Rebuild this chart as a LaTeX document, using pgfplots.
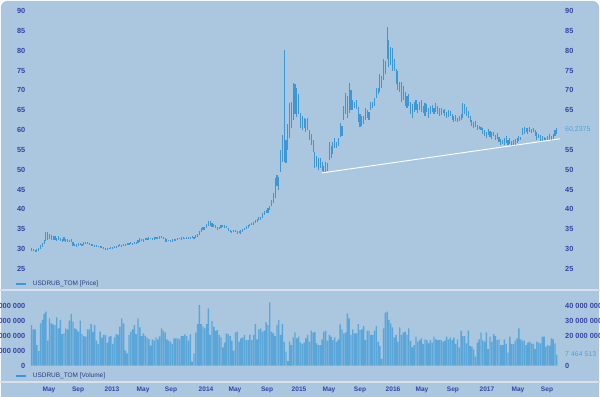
\documentclass[border=0pt]{standalone}
\usepackage{fontspec}
\setmainfont{Liberation Sans}
\usepackage{pgfplots}
\usepackage{pgfplotstable}
\pgfplotsset{compat=1.18}

\definecolor{bgc}{HTML}{ABC7E0}
\definecolor{tickc}{HTML}{3742A5}
\definecolor{legc}{HTML}{2B3A80}
\definecolor{barc}{HTML}{3D97D4}
\definecolor{volc}{HTML}{5BA6D9}
\definecolor{lastc}{HTML}{4AA3DC}
\definecolor{sepc}{HTML}{DCE0E6}

\pgfplotstableread{
w lo hi
0 29.6 30.3
1 29.5 30.1
2 29.3 29.9
3 29.4 30.0
4 29.6 30.4
5 30.0 31.0
6 30.5 31.6
7 31.3 32.4
8 32.0 34.3
9 32.3 34.2
10 32.5 33.8
11 32.4 33.5
12 32.2 33.3
13 32.3 33.3
14 32.0 32.9
15 32.4 33.2
16 32.0 32.8
17 31.9 32.6
18 32.1 33.0
19 31.8 32.6
20 31.8 32.5
21 31.9 32.4
22 31.8 32.6
23 30.7 31.8
24 30.8 31.4
25 30.6 31.2
26 30.8 31.5
27 31.0 31.6
28 30.9 31.4
29 31.1 31.7
30 31.3 31.9
31 31.2 31.8
32 31.0 31.5
33 30.8 31.3
34 30.7 31.2
35 30.6 31.1
36 30.5 31.0
37 30.6 30.9
38 30.4 30.8
39 30.2 30.7
40 30.1 30.5
41 29.9 30.4
42 30.0 30.3
43 30.0 30.4
44 30.1 30.5
45 30.2 30.6
46 30.3 30.8
47 30.4 30.9
48 30.6 31.0
49 30.7 31.3
50 30.6 31.1
51 30.8 31.4
52 30.9 31.3
53 31.0 31.5
54 31.0 31.6
55 31.2 31.8
56 31.1 31.5
57 31.2 31.7
58 31.3 31.9
59 31.5 32.2
60 31.8 32.7
61 32.0 32.5
62 31.9 32.6
63 32.2 32.8
64 32.3 32.9
65 32.4 33.0
66 32.5 32.9
67 32.3 32.8
68 32.4 33.1
69 32.6 33.1
70 32.5 33.0
71 32.6 33.2
72 32.7 33.3
73 32.6 33.1
74 31.8 32.8
75 31.9 32.5
76 32.0 32.4
77 31.7 32.3
78 31.9 32.5
79 32.2 32.6
80 32.0 32.5
81 32.3 32.8
82 32.5 32.9
83 32.4 33.0
84 32.6 33.1
85 32.5 32.9
86 32.7 33.0
87 32.6 33.1
88 32.5 33.0
89 32.7 33.2
90 32.5 33.0
91 32.8 33.5
92 33.0 33.7
93 33.6 34.6
94 34.3 35.3
95 34.8 35.6
96 34.9 35.7
97 35.3 36.4
98 35.8 37.0
99 35.9 37.1
100 35.6 36.5
101 35.5 36.3
102 35.2 36.2
103 34.8 35.6
104 35.0 35.5
105 35.2 36.0
106 35.5 36.1
107 35.4 36.0
108 35.2 35.8
109 34.5 35.3
110 34.2 34.9
111 34.0 34.6
112 34.4 34.9
113 34.2 34.7
114 33.8 34.5
115 34.0 34.5
116 33.9 34.8
117 34.3 35.0
118 34.7 35.4
119 35.1 35.8
120 35.4 36.1
121 35.8 36.3
122 36.0 36.7
123 36.2 36.8
124 36.5 37.3
125 36.9 37.6
126 37.3 38.0
127 37.4 38.2
128 37.8 39.0
129 38.5 39.5
130 39.0 39.8
131 39.2 40.3
132 39.8 40.8
133 40.8 42.4
134 41.5 44.2
135 43.0 48.0
136 46.0 48.8
137 44.8 48.2
138 49.5 55.0
139 52.0 58.8
140 52.0 80.2
141 51.8 57.4
142 55.0 61.5
143 58.0 66.8
144 60.5 67.0
145 62.5 71.9
146 64.0 71.5
147 63.3 70.6
148 64.0 69.0
149 60.5 64.3
150 60.0 63.5
151 60.5 63.0
152 59.5 62.8
153 60.0 63.0
154 57.5 60.0
155 56.2 59.0
156 54.5 57.5
157 50.5 54.5
158 50.8 53.5
159 50.0 53.0
160 50.5 53.0
161 49.8 52.0
162 49.4 51.0
163 49.5 52.0
164 49.8 51.8
165 52.5 57.0
166 53.0 56.0
167 54.0 57.0
168 55.5 58.0
169 55.5 57.0
170 56.0 58.0
171 58.3 61.8
172 58.5 61.0
173 62.5 66.0
174 64.0 69.3
175 63.0 68.5
176 64.3 71.9
177 65.0 70.0
178 65.0 67.6
179 65.5 67.0
180 65.3 67.5
181 62.0 65.8
182 60.8 64.0
183 61.0 63.5
184 61.5 63.5
185 62.5 65.6
186 63.0 65.0
187 62.5 64.5
188 65.0 67.0
189 65.5 67.0
190 66.0 68.0
191 68.0 70.6
192 69.0 70.5
193 69.6 74.0
194 70.5 73.5
195 72.6 78.0
196 74.0 77.5
197 78.0 86.0
198 76.0 82.7
199 76.5 81.0
200 75.0 80.7
201 75.0 78.0
202 71.5 75.5
203 70.0 75.0
204 69.6 72.0
205 67.0 72.0
206 67.5 71.0
207 66.0 69.6
208 65.6 68.5
209 66.0 69.0
210 64.0 67.0
211 63.0 66.5
212 64.5 67.0
213 65.0 67.6
214 64.3 66.5
215 65.0 67.0
216 64.5 67.5
217 64.3 66.0
218 63.5 66.8
219 64.5 66.5
220 63.0 65.5
221 64.0 66.0
222 64.5 66.2
223 64.0 65.5
224 64.5 66.8
225 64.0 66.0
226 63.5 65.5
227 63.8 65.6
228 64.3 65.0
229 63.5 65.2
230 63.0 64.5
231 63.2 65.0
232 63.5 64.8
233 62.5 64.0
234 62.0 63.6
235 62.2 63.8
236 62.0 63.0
237 62.3 63.5
238 62.5 64.0
239 63.0 66.8
240 64.0 66.5
241 63.5 65.8
242 63.0 64.8
243 62.0 63.5
244 61.0 62.5
245 60.5 62.0
246 60.8 62.2
247 60.0 61.3
248 60.2 61.0
249 60.0 60.8
250 59.0 60.5
251 58.5 60.0
252 58.0 59.5
253 58.8 60.3
254 58.3 59.8
255 57.8 59.5
256 58.5 59.5
257 57.5 58.8
258 57.8 59.3
259 57.0 58.3
260 56.2 57.8
261 56.5 57.5
262 56.2 58.0
263 56.8 58.5
264 56.3 57.5
265 56.5 58.0
266 56.0 57.3
267 56.3 57.5
268 56.0 57.8
269 56.8 58.0
270 57.3 58.5
271 57.5 58.3
272 58.8 60.5
273 59.0 60.8
274 59.5 60.5
275 59.0 60.5
276 59.5 60.8
277 59.3 60.3
278 59.5 60.5
279 58.5 60.0
280 57.5 59.5
281 58.0 59.0
282 57.0 58.8
283 57.3 58.5
284 57.5 58.3
285 57.2 58.0
286 57.5 58.5
287 57.5 59.0
288 57.3 58.5
289 57.8 59.0
290 58.5 60.0
291 59.0 60.5
}\pricedata

\pgfplotstableread{
w v
0 27.1
1 24.2
2 24.2
3 13.8
4 9.8
5 28.3
6 30.5
7 34.5
8 36.0
9 16.7
10 31.6
11 28.3
12 27.6
13 27.1
14 32.2
15 24.9
16 30.5
17 21.1
18 21.6
19 24.9
20 24.2
21 30.0
22 34.5
23 29.4
24 24.9
25 24.2
26 22.7
27 30.0
28 21.1
29 19.8
30 19.4
31 24.2
32 24.2
33 27.8
34 22.5
35 27.1
36 16.7
37 14.5
38 22.7
39 18.7
40 20.5
41 20.5
42 15.4
43 19.4
44 19.8
45 14.5
46 18.9
47 21.1
48 20.5
49 26.0
50 31.6
51 28.3
52 10.0
53 8.3
54 20.5
55 22.7
56 24.2
57 27.1
58 21.1
59 31.6
60 25.6
61 19.8
62 21.6
63 20.0
64 18.9
65 17.8
66 13.4
67 17.6
68 16.7
69 18.9
70 17.6
71 19.5
72 24.9
73 23.4
74 22.2
75 17.6
76 16.7
77 16.0
78 14.5
79 18.3
80 18.3
81 18.3
82 17.6
83 19.8
84 19.8
85 20.9
86 19.8
87 16.7
88 20.9
89 2.7
90 8.3
91 22.0
92 27.8
93 40.5
94 27.8
95 26.0
96 24.9
97 27.8
98 38.2
99 20.5
100 29.8
101 26.0
102 23.4
103 23.8
104 20.5
105 18.9
106 12.3
107 15.4
108 21.6
109 21.1
110 19.8
111 16.7
112 10.0
113 22.2
114 22.7
115 16.0
116 18.3
117 18.9
118 20.5
119 17.1
120 17.1
121 20.7
122 17.1
123 20.5
124 27.8
125 17.6
126 24.2
127 24.9
128 22.7
129 23.4
130 28.9
131 27.1
132 42.3
133 22.7
134 21.6
135 19.8
136 27.1
137 30.5
138 20.5
139 27.8
140 16.0
141 9.4
142 3.1
143 16.0
144 13.8
145 18.9
146 22.2
147 18.3
148 19.4
149 15.6
150 14.5
151 15.4
152 18.3
153 20.5
154 16.0
155 23.4
156 22.0
157 22.5
158 14.9
159 13.8
160 13.8
161 17.6
162 22.7
163 23.4
164 16.7
165 20.5
166 19.4
167 17.1
168 18.9
169 16.0
170 17.6
171 27.6
172 24.2
173 21.6
174 22.0
175 34.9
176 31.6
177 20.5
178 24.2
179 21.6
180 21.6
181 27.8
182 23.8
183 24.2
184 26.5
185 17.1
186 23.4
187 23.4
188 20.5
189 20.5
190 23.4
191 26.5
192 16.0
193 13.2
194 4.5
195 24.9
196 35.4
197 36.0
198 30.5
199 28.3
200 25.6
201 18.9
202 20.5
203 16.0
204 25.6
205 20.5
206 22.0
207 22.7
208 20.5
209 24.9
210 16.5
211 12.3
212 13.8
213 19.4
214 16.0
215 17.1
216 18.3
217 14.5
218 17.6
219 17.1
220 14.9
221 17.1
222 15.4
223 19.4
224 17.6
225 17.1
226 17.1
227 17.1
228 16.0
229 16.7
230 19.4
231 17.6
232 18.7
233 17.1
234 18.7
235 14.5
236 17.6
237 12.3
238 23.4
239 19.8
240 19.8
241 14.9
242 23.4
243 13.2
244 12.7
245 10.9
246 6.0
247 15.4
248 17.6
249 22.0
250 17.1
251 16.0
252 22.2
253 11.1
254 19.4
255 16.0
256 21.1
257 19.8
258 17.1
259 17.6
260 13.8
261 13.8
262 17.6
263 14.5
264 8.7
265 19.4
266 14.5
267 14.5
268 16.7
269 18.3
270 24.9
271 17.6
272 16.7
273 16.7
274 13.8
275 15.4
276 16.0
277 14.9
278 14.5
279 11.1
280 16.0
281 15.4
282 14.9
283 19.4
284 19.4
285 12.7
286 13.8
287 13.2
288 18.3
289 17.6
290 14.9
291 7.46
}\voldata

\pgfplotsset{
  chartbase/.style={
    scale only axis, width=534bp, xmin=-2.49, xmax=293.35,
    axis line style={draw=none}, tick style={draw=none}, major tick length=0pt,
    /pgf/number format/assume math mode=true,
    yticklabel style={font=\fontsize{7.4}{8}\selectfont\bfseries, text=tickc, inner sep=0pt},
    xticklabel style={font=\fontsize{6.6}{8}\selectfont\bfseries, text=tickc, inner sep=0pt},
    legend style={draw=none, fill=none, inner sep=0pt, column sep=6bp,
      font=\fontsize{6.5}{8}\selectfont, text=legc, anchor=west,
      nodes={inner sep=0.5bp}},
    legend image code/.code={\draw[#1] (0bp,0bp) -- (10bp,0bp);},
  },
}

\begin{document}
\begin{tikzpicture}[x=1bp,y=1bp]
\useasboundingbox (0,0) rectangle (600,396);
\fill[white] (0,0) rectangle (600,396);
\fill[bgc, rounded corners=7bp] (0.8,-8) rectangle (599.2,395.2);
\draw[sepc, line width=1.6bp] (0,106) -- (600,106);
\draw[sepc, line width=1.6bp] (0,14) -- (600,14);

% price panel (left labels, bars, trend line, legend)
\begin{axis}[chartbase, at={(27bp,106bp)}, anchor=south west, height=290bp,
  ymin=19.7, ymax=92.77, ytick={25,30,...,90}, xtick=\empty,
  yticklabel style={anchor=east, xshift=-1.5bp},
  legend style={at={(-0.0225,0.0207)}}]
\addplot[draw=none, mark=none, forget plot,
  error bars/.cd, y dir=both, y explicit, error mark=none,
  error bar style={draw=barc, line width=1.1bp}]
  table[x=w, y expr={(\thisrow{lo}+\thisrow{hi})/2},
        y error plus expr={(\thisrow{hi}-\thisrow{lo})/2},
        y error minus expr={(\thisrow{hi}-\thisrow{lo})/2}] {\pricedata};
\addplot[white, line width=0.9bp, forget plot] coordinates {(160.9,49.2) (292.8,57.8)};
\addlegendimage{barc, line width=1.2bp}
\addlegendentry{USDRUB\_TOM [Price]}
\end{axis}

% price panel right labels
\begin{axis}[chartbase, at={(27bp,106bp)}, anchor=south west, height=290bp,
  ymin=19.7, ymax=92.77, ytick={25,30,35,40,45,50,55,65,70,75,80,85,90}, xtick=\empty,
  yticklabel pos=right, yticklabel style={anchor=west, xshift=4bp},
  extra y ticks={60.2375}, extra y tick labels={60{,}2375},
  extra y tick style={yticklabel style={text=lastc, font=\fontsize{7}{8}\selectfont}}]
\addplot[draw=none, forget plot] coordinates {(0,50)};
\end{axis}

% volume panel
\begin{axis}[chartbase, at={(27bp,15bp)}, anchor=south west, height=90bp,
  ymin=-10.2, ymax=49.8, ytick={0,10,20,30,40},
  yticklabels={0,10 000 000,20 000 000,30 000 000,40 000 000},
  yticklabel style={anchor=east, xshift=-1.5bp},
  xtick={9.7,25.8,44.6,61.8,77.3,96.7,112.7,130.5,148.2,164.8,182.0,200.3,216.3,233.5,252.3,269.5,285.6},
  xticklabels={May,Sep,2013,May,Sep,2014,May,Sep,2015,May,Sep,2016,May,Sep,2017,May,Sep},
  xticklabel style={anchor=north, yshift=-5.6bp},
  legend style={at={(-0.0225,0.0556)}}]
\addplot[ybar, bar width=1.4bp, fill=volc, draw=none, forget plot] table[x=w, y=v] {\voldata};
\addlegendimage{barc, line width=1.2bp}
\addlegendentry{USDRUB\_TOM [Volume]}
\end{axis}

% volume panel right labels
\begin{axis}[chartbase, at={(27bp,15bp)}, anchor=south west, height=90bp,
  ymin=-10.2, ymax=49.8, ytick={0,20,30,40},
  yticklabels={0,20 000 000,30 000 000,40 000 000},
  xtick=\empty, yticklabel pos=right, yticklabel style={anchor=west, xshift=4bp},
  extra y ticks={7.464513}, extra y tick labels={7 464 513},
  extra y tick style={yticklabel style={text=lastc, font=\fontsize{7}{8}\selectfont}}]
\addplot[draw=none, forget plot] coordinates {(0,10)};
\end{axis}
\end{tikzpicture}
\end{document}
